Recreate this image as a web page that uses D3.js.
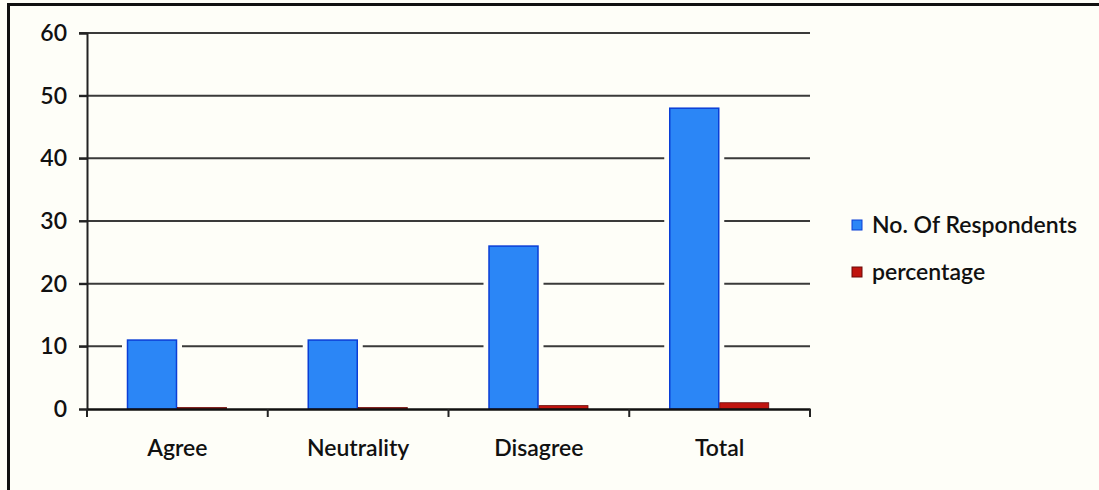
<!DOCTYPE html>
<html><head><meta charset="utf-8">
<script src="https://cdn.jsdelivr.net/npm/d3@7"></script>
<style>body{margin:0;background:#fefef8}</style>
</head><body>
<script>
const categories = ["Agree", "Neutrality", "Disagree", "Total"];
const respondents = [11, 11, 26, 48];
const percentage = [0.23, 0.23, 0.54, 1.0];
const yTicks = [0, 10, 20, 30, 40, 50, 60];
const seriesNames = ["No. Of Respondents", "percentage"];
const seriesColors = ["#2b86f6", "#c0150f"];
const seriesStrokes = ["#0a3ed6", "#6a0a08"];

const W = 1099, H = 490;
const svg = d3.select("body").append("svg").attr("width", W).attr("height", H);
svg.append("rect").attr("width", W).attr("height", H).attr("fill", "#fefef8");
svg.append("path").attr("d", `M8.5,${H} V4.5 H${W}`).attr("fill", "none").attr("stroke", "#111").attr("stroke-width", 3);

const x0 = 87, x1 = 810, yTop = 33, yBot = 409;
const x = d3.scaleBand().domain(categories).range([x0, x1]).paddingInner(0).paddingOuter(0);
const y = d3.scaleLinear().domain([0, 60]).range([yBot, yTop]);
const inner = d3.scaleBand().domain([0, 1]).range([40, 140]);

const font = "Lato, 'Open Sans', sans-serif";
const fs = 23;
// gridlines
svg.append("g").selectAll("line").data(yTicks.filter(d => d > 0)).join("line")
  .attr("x1", x0 - 8).attr("x2", x1).attr("y1", d => y(d)).attr("y2", d => y(d))
  .attr("stroke", "#3a3a3a").attr("stroke-width", 2);

const data = [respondents, percentage];
data.forEach((vals, si) => {
  svg.append("g").selectAll("rect").data(categories).join("rect")
    .attr("x", (c) => x(c) + inner(si) - 5).attr("width", inner.bandwidth() + 10)
    .attr("y", (c, i) => y(vals[i]) - 4).attr("height", (c, i) => Math.max(0, yBot - y(vals[i]) + 4))
    .attr("fill", "#fefef8");
});
data.forEach((vals, si) => {
  svg.append("g").selectAll("rect").data(categories).join("rect")
    .attr("x", c => x(c) + inner(si) + 0.5).attr("width", inner.bandwidth() - 1)
    .attr("y", (c, i) => y(vals[i])).attr("height", (c, i) => yBot - y(vals[i]))
    .attr("fill", seriesColors[si]).attr("stroke", seriesStrokes[si]).attr("stroke-width", si === 0 ? 1.5 : 0.8);
});

// y axis
const ya = svg.append("g").attr("transform", `translate(${x0},0)`)
  .call(d3.axisLeft(y).tickValues(yTicks).tickSize(8).tickPadding(12));
ya.select(".domain").attr("stroke", "#222").attr("stroke-width", 2);
ya.selectAll(".tick line").attr("stroke", "#222").attr("stroke-width", 2);
ya.selectAll("text").attr("font-family", font).attr("font-size", fs).attr("font-weight", 600).attr("fill", "#111");

// x axis
const xa = svg.append("g").attr("transform", `translate(0,${yBot})`)
  .call(d3.axisBottom(x).tickSize(0).tickPadding(31));
xa.select(".domain").attr("stroke", "#111").attr("stroke-width", 2.5);
xa.selectAll("text").attr("font-family", font).attr("font-size", fs).attr("font-weight", 600).attr("fill", "#111");
const bounds = categories.map(c => x(c)).concat([x1]);
svg.append("g").selectAll("line").data(bounds).join("line")
  .attr("x1", d => d).attr("x2", d => d).attr("y1", yBot).attr("y2", yBot + 8)
  .attr("stroke", "#222").attr("stroke-width", 2);

// legend
const lg = svg.append("g").attr("transform", "translate(852,225)");
seriesNames.forEach((n, i) => {
  const gy = i * 47;
  lg.append("rect").attr("x", 0).attr("y", gy - 5).attr("width", 10).attr("height", 10)
    .attr("fill", seriesColors[i]).attr("stroke", seriesStrokes[i]);
  lg.append("text").attr("x", 20).attr("y", gy).attr("dy", "0.35em")
    .attr("font-family", font).attr("font-size", fs).attr("font-weight", 600).attr("fill", "#111").text(n);
});
</script>
</body></html>
